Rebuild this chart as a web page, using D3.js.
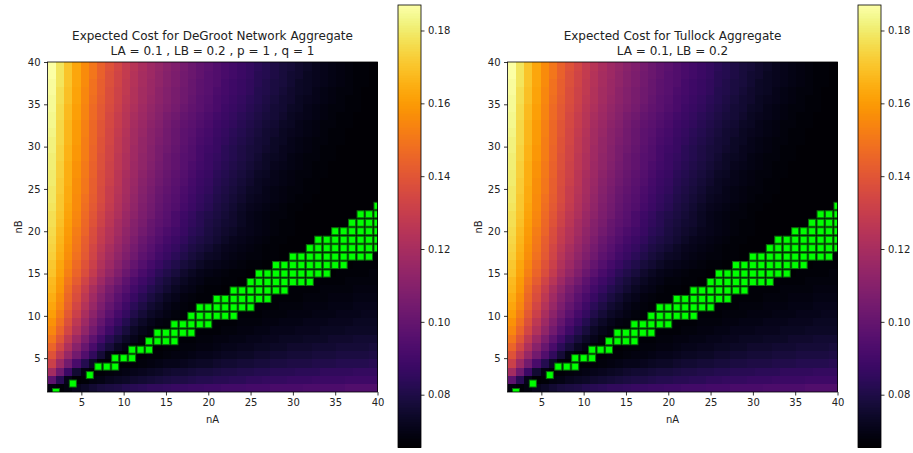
<!DOCTYPE html>
<html>
<head>
<meta charset="utf-8">
<script src="https://cdn.jsdelivr.net/npm/d3@7/dist/d3.min.js"></script>
<style>
body { margin: 0; background: #fff; }
text { font-family: "DejaVu Sans", sans-serif; fill: #222; }
</style>
</head>
<body>
<div id="chart"></div>
<script>
// grid categories and ticks
var nAValues = [1,2,3,4,5,6,7,8,9,10,11,12,13,14,15,16,17,18,19,20,21,22,23,24,25,26,27,28,29,30,31,32,33,34,35,36,37,38,39,40];
var nBValues = [1,2,3,4,5,6,7,8,9,10,11,12,13,14,15,16,17,18,19,20,21,22,23,24,25,26,27,28,29,30,31,32,33,34,35,36,37,38,39,40];
var axisTicks = [5,10,15,20,25,30,35,40];
var colorTicks = [0.08,0.10,0.12,0.14,0.16,0.18];
var colorDomain = [0.0655, 0.187];

// expected cost x1000, one row per nB (first row nB = 1), columns nA = 1..40
var deGrootCost = [
  [69,67,69,72,74,76,78,79,80,82,83,84,85,85,86,87,87,88,88,89,89,90,90,90,91,91,91,92,92,92,92,93,93,93,93,93,94,94,94,94],
  [98,83,71,66,67,69,70,72,73,74,75,76,77,78,79,80,80,81,82,82,83,83,84,84,85,85,86,86,86,87,87,87,88,88,88,88,89,89,89,89],
  [119,103,88,76,69,66,67,68,69,70,71,72,73,74,75,76,76,77,78,78,79,80,80,81,81,82,82,83,83,83,84,84,84,85,85,85,85,86,86,86],
  [131,117,104,92,82,74,67,66,66,66,67,68,69,70,71,71,72,73,74,74,75,76,76,77,77,78,78,79,79,80,80,80,81,81,81,82,82,82,82,83],
  [139,127,115,104,94,85,77,70,67,66,66,66,67,67,68,69,69,70,71,71,72,73,73,74,74,75,75,76,76,77,77,77,78,78,78,79,79,79,79,80],
  [145,134,122,111,101,92,84,78,73,70,67,66,66,66,67,67,68,68,69,69,70,71,71,72,72,73,73,74,74,75,75,75,76,76,76,77,77,77,77,78],
  [150,140,128,117,107,98,90,83,78,74,71,68,67,66,66,66,67,67,68,68,69,69,70,70,71,71,72,72,73,73,73,74,74,74,75,75,75,76,76,76],
  [155,145,134,123,113,104,96,89,83,78,74,71,69,67,67,66,66,66,67,67,67,68,68,69,69,70,70,71,71,71,72,72,72,73,73,73,74,74,74,74],
  [158,149,138,127,117,108,100,93,87,82,77,74,71,69,68,67,66,66,66,66,67,67,67,68,68,68,69,69,70,70,70,71,71,71,72,72,72,73,73,73],
  [161,152,141,131,121,112,104,97,91,86,81,77,74,72,70,68,67,66,66,66,66,66,66,67,67,67,68,68,68,69,69,69,70,70,70,71,71,71,72,72],
  [163,155,144,134,124,115,107,100,94,89,84,80,76,74,71,69,68,67,66,66,66,66,66,66,66,67,67,67,68,68,68,69,69,69,70,70,70,71,71,71],
  [165,157,146,137,127,118,110,103,97,92,87,83,79,76,73,71,69,68,67,67,66,66,66,66,66,66,66,67,67,67,67,68,68,68,69,69,69,70,70,70],
  [167,159,148,139,130,121,113,106,100,95,90,86,82,79,76,73,71,70,68,67,67,66,66,66,66,66,66,66,66,67,67,67,67,68,68,68,68,69,69,69],
  [168,160,150,142,133,125,117,110,104,98,93,89,85,81,78,75,73,71,70,68,68,67,67,66,66,66,66,66,66,66,66,66,67,67,67,67,68,68,68,68],
  [170,162,153,145,137,129,121,114,108,102,97,92,88,84,81,78,75,73,71,70,69,68,67,67,66,66,66,66,66,66,66,66,66,66,66,67,67,67,67,68],
  [171,163,155,147,139,131,123,117,111,105,100,95,91,87,84,81,78,76,74,72,71,70,69,68,67,67,66,66,66,66,66,66,66,66,66,66,66,67,67,67],
  [173,165,157,149,141,133,125,119,113,108,103,98,94,90,87,84,81,78,76,74,73,71,70,69,68,68,67,67,66,66,66,66,66,66,66,66,66,66,66,67],
  [174,166,158,150,142,134,127,121,115,110,105,100,96,92,89,86,83,80,78,76,74,72,71,70,69,68,67,67,66,66,66,66,66,66,66,66,66,66,66,66],
  [175,167,159,151,143,136,129,123,117,112,107,102,98,94,91,88,85,82,80,78,76,74,72,71,70,69,68,67,67,66,66,66,66,66,66,66,66,66,66,66],
  [176,168,160,152,145,137,130,124,119,113,109,104,100,96,93,90,87,84,82,79,77,75,74,72,71,70,69,68,67,67,66,66,66,66,66,66,66,66,66,66],
  [177,169,161,154,146,139,132,126,120,115,110,106,101,98,95,92,88,85,83,80,78,76,75,73,71,70,69,68,67,67,66,66,66,66,66,66,66,66,66,66],
  [177,170,162,155,147,140,133,127,122,116,112,107,103,99,96,92,89,86,83,81,79,77,75,73,71,70,69,68,68,67,66,66,66,66,66,66,66,66,66,66],
  [178,171,163,156,148,141,135,129,123,118,113,108,104,100,97,94,91,88,85,83,80,78,76,74,72,71,70,69,68,67,67,66,66,66,66,66,66,66,66,66],
  [179,171,164,156,149,142,136,130,124,119,114,109,105,101,98,95,92,89,86,84,81,79,77,75,73,72,71,70,69,68,67,67,66,66,66,66,66,66,66,66],
  [179,172,164,157,150,143,136,130,125,120,115,110,106,102,99,96,93,90,87,85,82,80,78,76,74,73,71,70,69,68,68,67,67,66,66,66,66,66,66,66],
  [180,172,165,157,150,143,137,131,126,120,116,111,107,103,100,97,94,91,88,86,83,81,79,77,75,73,72,71,70,69,68,67,67,66,66,66,66,66,66,66],
  [180,173,165,158,151,144,137,132,126,121,117,112,108,104,101,98,95,92,89,87,84,82,80,78,76,74,73,71,70,69,68,68,67,67,66,66,66,66,66,66],
  [181,173,165,158,151,144,138,132,127,122,117,113,109,105,102,99,96,93,90,88,85,83,81,79,77,75,74,72,71,70,69,68,67,67,66,66,66,66,66,66],
  [181,174,166,159,152,145,138,133,127,122,118,113,110,106,102,99,96,94,91,88,86,84,82,80,78,76,74,73,72,70,69,68,68,67,67,66,66,66,66,66],
  [182,174,166,159,152,145,139,133,128,123,118,114,110,106,103,100,97,94,91,89,87,84,82,80,78,77,75,74,72,71,70,69,68,67,67,66,66,66,66,66],
  [182,175,167,160,152,146,139,134,128,123,119,114,111,107,104,101,98,95,92,90,87,85,83,81,79,77,76,74,73,71,70,69,68,68,67,67,66,66,66,66],
  [183,175,167,160,153,146,140,134,129,124,119,115,111,108,104,101,98,96,93,91,88,86,84,82,80,78,76,75,73,72,71,70,69,68,67,67,66,66,66,66],
  [184,175,167,160,153,146,140,135,130,125,120,116,112,109,105,102,99,97,94,92,89,87,85,83,81,79,77,76,74,73,71,70,69,68,68,67,67,66,66,66],
  [184,176,168,161,154,147,141,135,130,125,121,117,113,110,106,103,100,98,95,93,90,88,86,84,82,80,78,77,75,73,72,71,70,69,68,67,67,66,66,66],
  [185,176,168,161,154,147,141,136,131,126,122,118,114,111,108,105,102,99,97,94,92,89,87,85,83,81,79,77,76,74,73,71,70,69,68,68,67,67,66,66],
  [185,177,169,162,155,148,142,137,132,127,123,119,115,112,109,106,103,100,97,95,92,90,88,86,84,82,80,78,76,75,73,72,71,70,69,68,67,67,66,66],
  [186,177,169,162,155,149,143,137,132,128,123,119,116,112,109,106,103,101,98,96,93,91,89,87,85,82,81,79,77,75,74,73,71,70,69,68,68,67,66,66],
  [186,178,170,163,156,149,143,138,133,128,124,120,116,113,110,107,104,101,98,96,94,91,89,87,85,83,81,79,78,76,74,73,72,71,70,69,68,67,67,66],
  [187,178,170,163,156,150,144,138,133,129,124,120,117,113,110,107,104,102,99,96,94,92,90,88,86,83,82,80,78,76,75,73,72,71,70,69,68,67,67,66],
  [187,178,170,163,156,150,144,139,134,129,125,121,117,114,111,108,105,102,99,97,94,92,90,88,86,84,82,80,78,77,75,74,72,71,70,69,68,67,67,66]
];
// the Tullock panel reads the same as the DeGroot one at this resolution
var tullockCost = deGrootCost;

// green cells: lowest and highest nB marked for each nA (null = none)
var greenLow  = [null,1,null,2,null,3,4,4,4,5,5,6,6,7,7,7,8,8,9,9,10,10,10,11,11,12,12,13,13,14,14,14,15,15,16,16,17,17,17,18];
var greenHigh = [null,1,null,2,null,3,4,4,5,5,6,6,7,8,8,9,9,10,11,11,12,12,13,13,14,15,15,16,16,17,17,18,19,19,20,20,21,22,22,23];

var width = 913, height = 453;
var plotTop = 62, size = 330;

var svg = d3.select("#chart").append("svg")
  .attr("width", width).attr("height", height);

var color = d3.scaleSequential(d3.interpolateInferno).domain(colorDomain);

var panels = [
  { id: "degroot", left: 47.5, cbarLeft: 398,
    title: ["Expected Cost for DeGroot Network Aggregate", "LA = 0.1 , LB = 0.2 , p = 1 , q = 1"],
    cost: deGrootCost },
  { id: "tullock", left: 507.5, cbarLeft: 858,
    title: ["Expected Cost for Tullock Aggregate", "LA = 0.1, LB = 0.2"],
    cost: tullockCost }
];

function styleAxis(g) {
  g.select(".domain").remove();
  g.selectAll(".tick line").attr("stroke", "#000").attr("stroke-width", 0.8);
  g.selectAll(".tick text").attr("font-size", 10).attr("font-family", "DejaVu Sans, sans-serif").attr("fill", "#222");
}

panels.forEach(function(p) {
  var g = svg.append("g");

  // cell scales (imshow extent 1..40) and point scales for the axes / markers
  var xBand = d3.scaleBand().domain(nAValues).range([p.left, p.left + size]);
  var yBand = d3.scaleBand().domain(nBValues).range([plotTop + size, plotTop]);
  var x = d3.scaleLinear().domain([1, 40]).range([p.left, p.left + size]);
  var y = d3.scaleLinear().domain([1, 40]).range([plotTop + size, plotTop]);

  var cells = [];
  p.cost.forEach(function(row, i) {
    row.forEach(function(v, j) {
      cells.push({ nA: nAValues[j], nB: nBValues[i], v: v / 1000 });
    });
  });

  g.append("clipPath").attr("id", "clip-" + p.id)
    .append("rect").attr("x", p.left).attr("y", plotTop).attr("width", size).attr("height", size);

  g.append("g").attr("shape-rendering", "crispEdges")
    .selectAll("rect").data(cells).join("rect")
    .attr("x", function(d) { return xBand(d.nA); })
    .attr("y", function(d) { return yBand(d.nB); })
    .attr("width", xBand.bandwidth() + 0.4)
    .attr("height", yBand.bandwidth() + 0.4)
    .attr("fill", function(d) { return color(d.v); });

  // green markers
  var marks = [];
  nAValues.forEach(function(a, i) {
    if (greenLow[i] == null) return;
    for (var b = greenLow[i]; b <= greenHigh[i]; b++) marks.push({ nA: a, nB: b });
  });
  var ms = 7;
  g.append("g").attr("clip-path", "url(#clip-" + p.id + ")")
    .selectAll("rect").data(marks).join("rect")
    .attr("x", function(d) { return x(d.nA) - ms / 2; })
    .attr("y", function(d) { return y(d.nB) - ms / 2; })
    .attr("width", ms).attr("height", ms)
    .attr("fill", "#00ff00")
    .attr("stroke", "#0b6a0b").attr("stroke-width", 1);

  // frame
  g.append("rect").attr("x", p.left).attr("y", plotTop).attr("width", size).attr("height", size)
    .attr("fill", "none").attr("stroke", "#000").attr("stroke-width", 0.8);

  g.append("g").attr("transform", "translate(0," + (plotTop + size) + ")")
    .call(d3.axisBottom(x).tickValues(axisTicks).tickSize(3.5).tickPadding(3.5))
    .call(styleAxis);
  g.append("g").attr("transform", "translate(" + p.left + ",0)")
    .call(d3.axisLeft(y).tickValues(axisTicks).tickSize(3.5).tickPadding(3.5))
    .call(styleAxis);

  // titles and labels
  var cx = p.left + size / 2;
  g.append("text").attr("x", cx).attr("y", 39.5).attr("text-anchor", "middle")
    .attr("font-size", 12).text(p.title[0]);
  g.append("text").attr("x", cx).attr("y", 55).attr("text-anchor", "middle")
    .attr("font-size", 12).text(p.title[1]);
  g.append("text").attr("x", cx).attr("y", 423).attr("text-anchor", "middle")
    .attr("font-size", 10).text("nA");
  g.append("text").attr("transform", "translate(" + (p.left - 25.5) + "," + (plotTop + size / 2) + ") rotate(-90)")
    .attr("text-anchor", "middle").attr("font-size", 10).text("nB");

  // colorbar
  var cTop = 5, cBottom = 447.5, cW = 23;
  var cy = d3.scaleLinear().domain(colorDomain).range([cBottom, cTop]);
  var steps = d3.range(0, 256);
  g.append("g").attr("shape-rendering", "crispEdges")
    .selectAll("rect").data(steps).join("rect")
    .attr("x", p.cbarLeft)
    .attr("y", function(k) { return cy(colorDomain[0] + (k + 1) / 256 * (colorDomain[1] - colorDomain[0])); })
    .attr("width", cW)
    .attr("height", (cBottom - cTop) / 256 + 0.6)
    .attr("fill", function(k) { return color(colorDomain[0] + (k + 0.5) / 256 * (colorDomain[1] - colorDomain[0])); });
  g.append("rect").attr("x", p.cbarLeft).attr("y", cTop).attr("width", cW).attr("height", cBottom - cTop)
    .attr("fill", "none").attr("stroke", "#000").attr("stroke-width", 0.8);
  g.append("g").attr("transform", "translate(" + (p.cbarLeft + cW) + ",0)")
    .call(d3.axisRight(cy).tickValues(colorTicks).tickFormat(d3.format(".2f")).tickSize(3.5).tickPadding(3.5))
    .call(styleAxis);
});
</script>
</body>
</html>
